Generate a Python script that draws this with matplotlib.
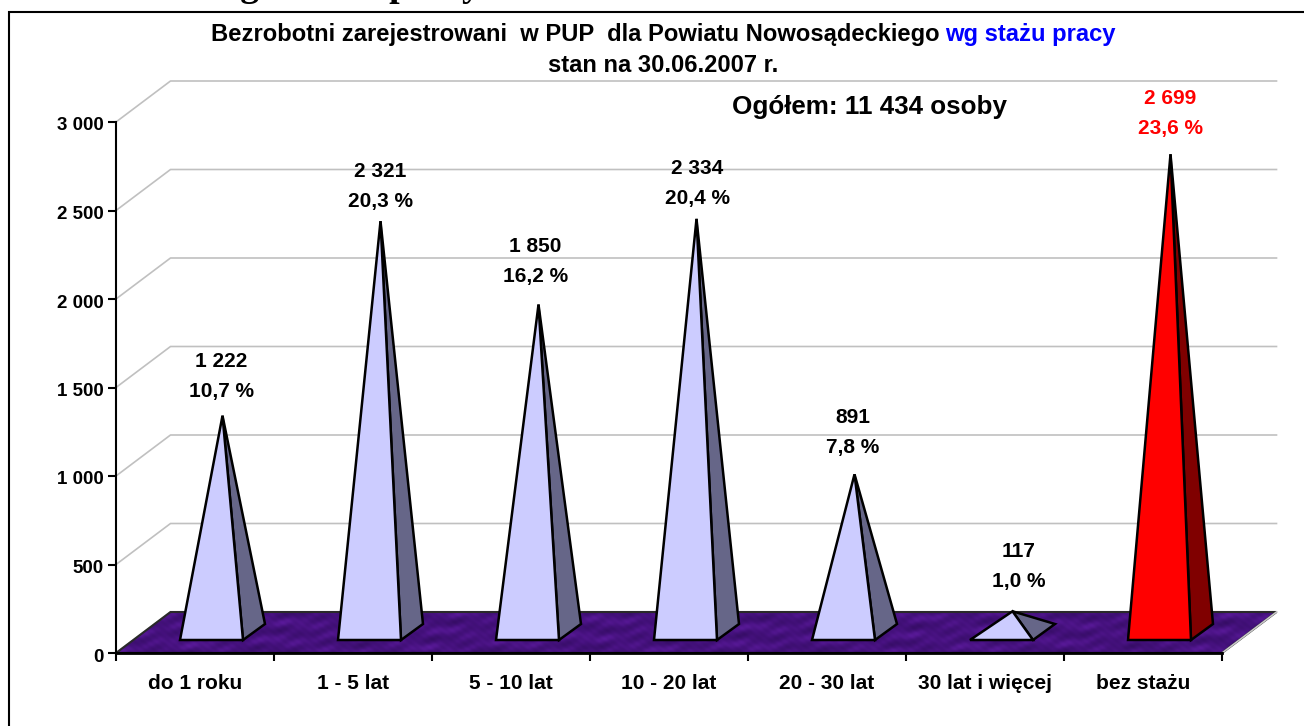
import numpy as np
import matplotlib
matplotlib.use("Agg")
import matplotlib.pyplot as plt
from matplotlib.patches import Polygon, Rectangle
from matplotlib.colors import LinearSegmentedColormap
from matplotlib.transforms import ScaledTranslation

W, H = 1304, 726

categories = ["do 1 roku", "1 - 5 lat", "5 - 10 lat", "10 - 20 lat", "20 - 30 lat", "30 lat i więcej", "bez stażu"]
values = [1222, 2321, 1850, 2334, 891, 117, 2699]
value_labels = ["1 222", "2 321", "1 850", "2 334", "891", "117", "2 699"]
pct_labels = ["10,7 %", "20,3 %", "16,2 %", "20,4 %", "7,8 %", "1,0 %", "23,6 %"]
y_ticks = [0, 500, 1000, 1500, 2000, 2500, 3000]
y_tick_labels = ["0", "500", "1 000", "1 500", "2 000", "2 500", "3 000"]

# labels were moved by hand in the original, shift in pixels from the apex
label_dx = [-1, 0, -3, 1, -2, 6, 0]
label_up = [54, 50, 58, 50, 57, 60, 56]

plt.rcParams['font.family'] = ['Liberation Sans', 'DejaVu Sans']
plt.rcParams['font.weight'] = 'bold'

fig = plt.figure(figsize=(W / 100, H / 100), dpi=100)

# plot area in pixels: x 116..1222, y 122..653
ax = fig.add_axes([116 / W, 1 - 653 / H, (1222 - 116) / W, (653 - 122) / H])
ax.set_xlim(0, 7)
ax.set_ylim(0, 3000)
ax.patch.set_visible(False)

# pixel to data scale
px_x = 7 / (1222 - 116)
px_y = 3000 / (653 - 122)
depth_x = 54.5 * px_x
depth_y = 41 * px_y

# back wall grid lines
for v in y_ticks:
    ax.plot([0, depth_x, 7 + depth_x], [v, v + depth_y, v + depth_y], color="#c0c0c0", lw=1.2,
            clip_on=False, zorder=1)

# floor with mottled purple fill
floor_pts = [(0, 0), (7, 0), (7 + depth_x, depth_y), (depth_x, depth_y)]
floor = Polygon(floor_pts, closed=True, facecolor="#43107a", edgecolor="none", zorder=2, clip_on=False)
ax.add_patch(floor)
xx, yy = np.meshgrid(np.arange(1160), np.arange(42))
tex = (np.sin(xx * 0.13 + yy * 0.5) + np.sin(xx * 0.057 - yy * 0.31 + 1.3)
       + np.sin(xx * 0.31 + yy * 0.43 + 2.1) * 0.7 + np.sin(xx * 0.023 + yy * 0.37) * 0.8
       + np.sin(xx * 0.71 - yy * 0.9) * 0.4)
cmap = LinearSegmentedColormap.from_list("floor", ["#360d66", "#45117d", "#5a1a9a"])
im = ax.imshow(tex, extent=(0, 7 + depth_x, 0, depth_y), aspect="auto", cmap=cmap, zorder=2.1,
               interpolation="bilinear")
im.set_clip_box(fig.bbox)
im.set_clip_path(floor)
ax.set_xlim(0, 7)
ax.set_ylim(0, 3000)
ax.add_patch(Polygon(floor_pts, closed=True, fill=False, edgecolor="#2a2a2a", lw=1.5, zorder=2.2, clip_on=False))
ax.plot([7, 7 + depth_x], [0, depth_y], color="#c8c8c8", lw=1.2, zorder=2.3, clip_on=False)
ax.plot([0, 7], [0, 0], color="black", lw=2, zorder=2.3, clip_on=False)

# pyramids
half_w = 31.5 * px_x
base_y = 13 * px_y
bar_dx = 22 * px_x
bar_dy = 16 * px_y
offset_x = 16.5 * px_x
for i, v in enumerate(values):
    cx = i + 0.5 + offset_x
    apex = (cx + bar_dx / 2, base_y + bar_dy / 2 + v)
    is_last = i == len(values) - 1
    front_c = "#ff0000" if is_last else "#ccccff"
    side_c = "#800000" if is_last else "#666688"
    ax.add_patch(Polygon([(cx + half_w, base_y), (cx + half_w + bar_dx, base_y + bar_dy), apex], closed=True,
                         facecolor=side_c, edgecolor="black", lw=1.8, joinstyle="miter", zorder=3, clip_on=False))
    ax.add_patch(Polygon([(cx - half_w, base_y), (cx + half_w, base_y), apex], closed=True,
                         facecolor=front_c, edgecolor="black", lw=1.8, joinstyle="miter", zorder=4, clip_on=False))
    txt_c = "#ff0000" if is_last else "black"
    ax.annotate(value_labels[i], apex, xytext=(label_dx[i] * 0.72, label_up[i] * 0.72), textcoords="offset points",
                ha="center", va="center", fontsize=15, color=txt_c, zorder=6)
    ax.annotate(pct_labels[i], apex, xytext=(label_dx[i] * 0.72, (label_up[i] - 30) * 0.72), textcoords="offset points",
                ha="center", va="center", fontsize=15, color=txt_c, zorder=6)

# axes
for s in ["top", "right"]:
    ax.spines[s].set_visible(False)
for s in ["left", "bottom"]:
    ax.spines[s].set_linewidth(1.5)
    ax.spines[s].set_zorder(5)
ax.set_yticks(y_ticks)
ax.set_yticklabels(y_tick_labels, fontsize=13.5)
ax.set_xticks(np.arange(8))
ax.set_xticklabels([])
ax.set_xticks(np.arange(7) + 0.5, minor=True)
ax.set_xticklabels(categories, minor=True, fontsize=15)
ax.tick_params(axis="y", length=6, width=1.5, pad=3)
ax.tick_params(axis="x", which="major", length=6, width=1.5)
ax.tick_params(axis="x", which="minor", length=0, pad=15)
# y labels sit a little lower than matplotlib centres them
for lab in ax.get_yticklabels():
    lab.set_transform(lab.get_transform() + ScaledTranslation(0, -2 / 100, fig.dpi_scale_trans))

# texts placed in pixels of the figure
def fx(x):
    return x / W

def fy(y):
    return 1 - y / H

fig.text(fx(940), fy(35), "Bezrobotni zarejestrowani  w PUP  dla Powiatu Nowosądeckiego", ha="right", va="center",
         fontsize=17.1, color="black")
fig.text(fx(945), fy(35), "wg stażu pracy", ha="left", va="center", fontsize=17.1, color="#0000ff")
fig.text(fx(663), fy(66), "stan na 30.06.2007 r.", ha="center", va="center", fontsize=17.1, color="black")
fig.text(fx(870), fy(107), "Ogółem: 11 434 osoby", ha="center", va="center", fontsize=18.7, color="black")

# page heading cut by the top edge
fig.text(fx(209), fy(-4), "ing   stażu  pracy", ha="left", va="baseline", fontsize=27, color="black",
         family=["Liberation Serif", "DejaVu Serif"])

# frame
fig.add_artist(Rectangle((fx(9), fy(H + 20)), fx(W + 20), fy(12) - fy(H + 20), transform=fig.transFigure,
                         fill=False, edgecolor="black", lw=1.5))

fig.savefig("out.png", dpi=100)
